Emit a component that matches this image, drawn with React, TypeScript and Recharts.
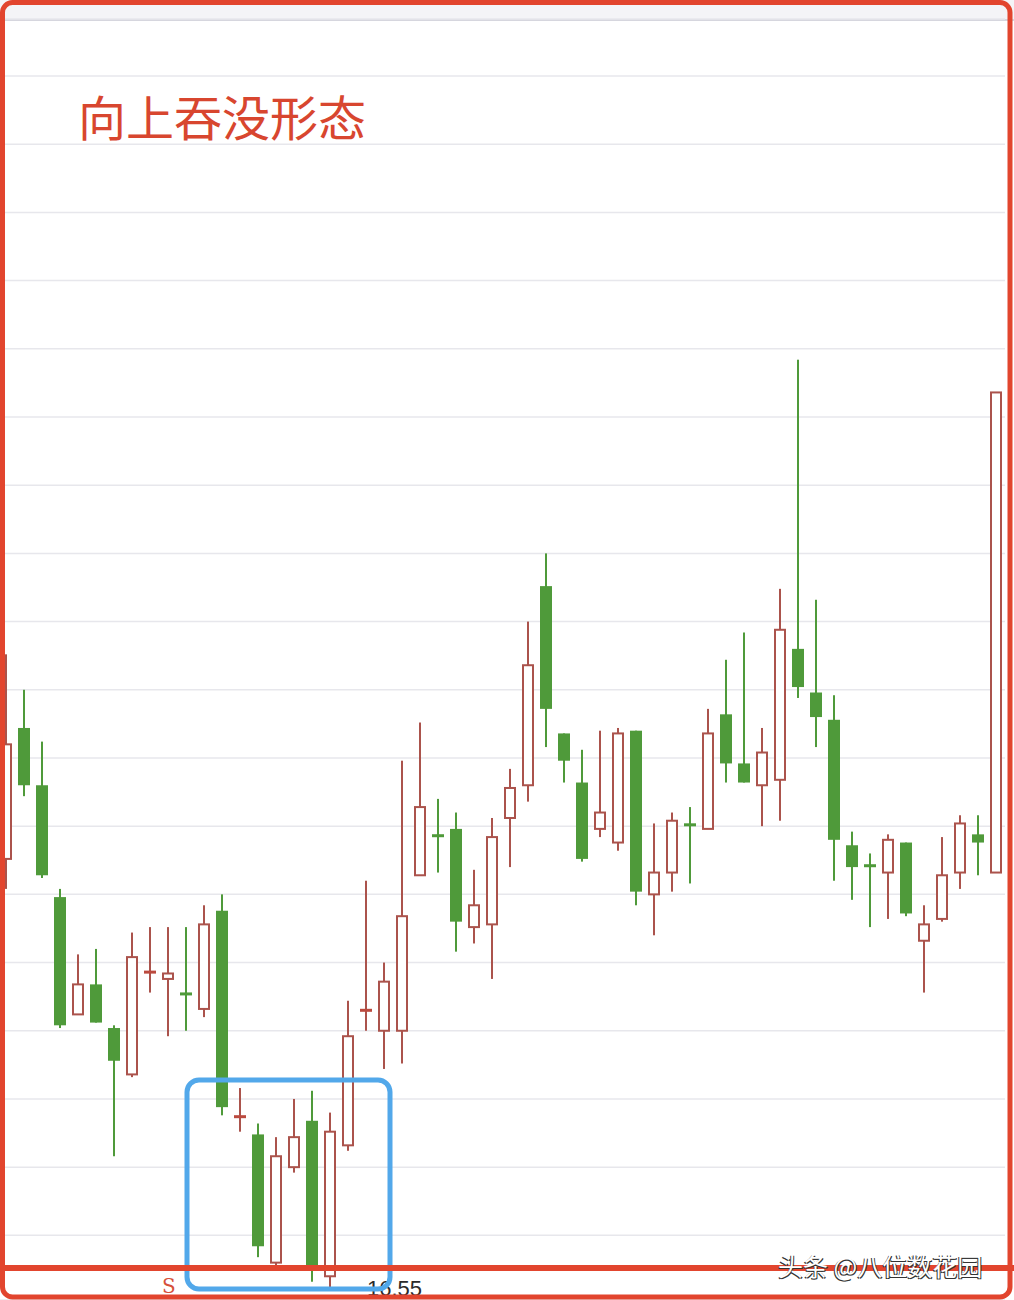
import React from 'react';
import { ComposedChart, Bar, XAxis, YAxis, CartesianGrid } from 'recharts';

// Trading sessions (one candle each)
const sessions = [
  'd01', 'd02', 'd03', 'd04', 'd05', 'd06', 'd07', 'd08', 'd09', 'd10',
  'd11', 'd12', 'd13', 'd14', 'd15', 'd16', 'd17', 'd18', 'd19', 'd20',
  'd21', 'd22', 'd23', 'd24', 'd25', 'd26', 'd27', 'd28', 'd29', 'd30',
  'd31', 'd32', 'd33', 'd34', 'd35', 'd36', 'd37', 'd38', 'd39', 'd40',
  'd41', 'd42', 'd43', 'd44', 'd45', 'd46', 'd47', 'd48', 'd49', 'd50',
  'd51', 'd52', 'd53', 'd54', 'd55', 'd56',
];

const openPrices = [
  18.13, 18.61, 18.40, 17.99, 17.56, 17.67, 17.51, 17.34, 17.71, 17.69,
  17.64, 17.58, 17.94, 17.18, 17.12, 16.65, 17.00, 17.17, 16.60, 17.08,
  17.57, 17.50, 17.50, 18.07, 18.22, 18.24, 17.88, 17.89, 18.28, 18.40,
  19.13, 18.59, 18.41, 18.24, 18.19, 18.60, 18.00, 18.08, 18.26, 18.24,
  18.66, 18.48, 18.40, 18.42, 18.90, 18.74, 18.64, 18.18, 18.11, 18.08,
  18.19, 17.83, 17.91, 18.08, 18.22, 18.08,
];

const closePrices = [
  18.55, 18.40, 18.07, 17.52, 17.67, 17.53, 17.39, 17.77, 17.72, 17.71,
  17.63, 17.89, 17.22, 17.19, 16.71, 17.04, 17.11, 16.62, 17.13, 17.48,
  17.58, 17.68, 17.92, 18.32, 18.21, 17.90, 17.96, 18.21, 18.39, 18.84,
  18.68, 18.49, 18.13, 18.30, 18.59, 18.01, 18.08, 18.27, 18.25, 18.59,
  18.48, 18.41, 18.52, 18.97, 18.76, 18.65, 18.20, 18.10, 18.10, 18.20,
  17.93, 17.89, 18.07, 18.26, 18.19, 19.84,
];

const highPrices = [
  18.88, 18.75, 18.56, 18.02, 17.78, 17.80, 17.52, 17.86, 17.88, 17.88,
  17.88, 17.96, 18.00, 17.29, 17.16, 17.11, 17.25, 17.28, 17.20, 17.61,
  18.05, 17.75, 18.49, 18.63, 18.35, 18.30, 18.09, 18.28, 18.46, 19.00,
  19.25, 18.59, 18.53, 18.60, 18.61, 18.60, 18.26, 18.30, 18.32, 18.68,
  18.86, 18.96, 18.61, 19.12, 19.96, 19.08, 18.73, 18.23, 18.15, 18.22,
  18.19, 17.96, 18.21, 18.29, 18.29, 19.84,
];

const lowPrices = [
  18.02, 18.36, 18.06, 17.51, 17.56, 17.53, 17.04, 17.33, 17.64, 17.48,
  17.50, 17.55, 17.19, 17.13, 16.67, 16.64, 16.98, 16.58, 16.55, 17.06,
  17.50, 17.36, 17.38, 18.07, 18.08, 17.79, 17.82, 17.69, 18.10, 18.34,
  18.54, 18.41, 18.12, 18.21, 18.16, 17.96, 17.85, 18.01, 18.04, 18.24,
  18.41, 18.41, 18.25, 18.27, 18.72, 18.54, 18.05, 17.98, 17.88, 17.91,
  17.92, 17.64, 17.90, 18.02, 18.07, 18.08,
];

// Horizontal grid levels and visible price window
const gridLevels = [
  16.75, 17.0, 17.25, 17.5, 17.75, 18.0, 18.25, 18.5, 18.75,
  19.0, 19.25, 19.5, 19.75, 20.0, 20.25, 20.5, 20.75, 21.0,
];
const priceWindow: [number, number] = [16.513, 21.209];

const lowestLabel = '16.55';
const titleText = '向上吞没形态';
const markerText = 'S';
const creditText = '头条 @八位数花园';

const UP = '#ab534c';
const DOWN = '#4f9a3a';

const rows = sessions.map((day, i) => ({
  day,
  open: openPrices[i],
  close: closePrices[i],
  high: highPrices[i],
  low: lowPrices[i],
  range: [lowPrices[i], highPrices[i]],
}));

const Candle = (props: any) => {
  const { x, y, width, height, payload } = props;
  const { open, close, high, low } = payload;
  const top = Math.min(y, y + height);
  const h = Math.abs(height);
  const span = high - low;
  const toY = (v: number) => (span > 0 ? top + ((high - v) / span) * h : top);
  const cx = x + width / 2;
  const rising = close >= open;
  const color = rising ? UP : DOWN;
  const bodyTop = toY(Math.max(open, close));
  const bodyBottom = toY(Math.min(open, close));
  const bodyH = bodyBottom - bodyTop;
  const yHigh = toY(high);
  const yLow = toY(low);

  if (bodyH < 3) {
    const mid = (bodyTop + bodyBottom) / 2;
    return (
      <g>
        <rect x={cx - 1} y={yHigh} width={2} height={Math.max(yLow - yHigh, 0)} fill={color} />
        <rect x={x} y={mid - 1.5} width={width} height={3} fill={rising ? '#bb4a3f' : DOWN} />
      </g>
    );
  }

  if (rising) {
    return (
      <g>
        <rect x={cx - 1} y={yHigh} width={2} height={Math.max(bodyTop - yHigh, 0)} fill={color} />
        <rect x={cx - 1} y={bodyBottom} width={2} height={Math.max(yLow - bodyBottom, 0)} fill={color} />
        <rect
          x={x + 1}
          y={bodyTop}
          width={width - 2}
          height={bodyH}
          fill="#ffffff"
          stroke={color}
          strokeWidth={2}
        />
      </g>
    );
  }

  return (
    <g>
      <rect x={cx - 1} y={yHigh} width={2} height={Math.max(yLow - yHigh, 0)} fill={color} />
      <rect x={x} y={bodyTop} width={width} height={bodyH} fill={color} />
    </g>
  );
};

export default function App() {
  return (
    <div
      style={{
        position: 'absolute',
        left: 0,
        top: 0,
        width: 1014,
        height: 1300,
        background: '#ffffff',
        overflow: 'hidden',
      }}
    >
      {/* header strip above the plot */}
      <div
        style={{
          position: 'absolute',
          left: 0,
          top: 0,
          width: 1014,
          height: 19,
          background: '#f4f4f7',
          borderBottom: '2px solid #d6d6de',
        }}
      />
      <div style={{ position: 'absolute', left: -3, top: 0 }}>
        <ComposedChart
          width={1011}
          height={1300}
          data={rows}
          margin={{ top: 19, right: 3, bottom: 0, left: 0 }}
        >
          <CartesianGrid
            horizontal
            vertical={false}
            stroke="#e7e7ec"
            strokeWidth={1.5}
          />
          <XAxis dataKey="day" hide />
          <YAxis hide domain={priceWindow} ticks={gridLevels} allowDataOverflow />
          <Bar
            dataKey="range"
            barSize={12}
            shape={<Candle />}
            isAnimationActive={false}
          />
        </ComposedChart>
      </div>

      <svg
        width={1014}
        height={1300}
        style={{ position: 'absolute', left: 0, top: 0, pointerEvents: 'none' }}
      >
        <text
          x={78}
          y={136}
          fontSize={48}
          fill="#d8462f"
          fontFamily="'Noto Sans CJK SC', sans-serif"
        >
          {titleText}
        </text>

        <text
          x={367}
          y={1296}
          fontSize={22}
          fill="#2b2b2b"
          fontFamily="'Liberation Sans', Arial, sans-serif"
        >
          {lowestLabel}
        </text>
        <text
          x={162}
          y={1293}
          fontSize={20}
          fill="#d6503a"
          fontFamily="'DejaVu Serif', serif"
        >
          {markerText}
        </text>

        <rect
          x={187}
          y={1080}
          width={203}
          height={209}
          rx={12}
          fill="none"
          stroke="#52a8ea"
          strokeWidth={5}
        />

        <rect x={0} y={1265} width={1014} height={6} fill="#e2452e" />

        <g fontSize={25} fontFamily="'Noto Sans CJK SC', sans-serif">
          <text x={777} y={1277} fill="#333333">{creditText}</text>
          <text x={779} y={1277} fill="#333333">{creditText}</text>
          <text x={778} y={1276} fill="#ffffff">{creditText}</text>
        </g>

        <rect
          x={2.5}
          y={2.5}
          width={1007.5}
          height={1294.5}
          rx={10}
          fill="none"
          stroke="#e2452e"
          strokeWidth={5}
        />
      </svg>
    </div>
  );
}
